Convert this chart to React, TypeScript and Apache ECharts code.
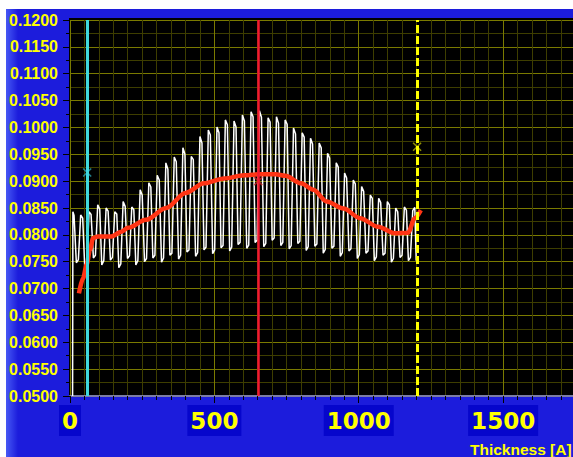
import React, { useEffect, useRef } from "react";
import * as echarts from "echarts";

// White measured signal: thickness [A]
const signalX = [9,
  10, 14, 22, 29,
  37, 44, 51, 58,
  66, 73, 81, 88,
  96, 103, 110, 117,
  125, 132, 140, 147,
  155, 162, 169, 176,
  184, 191, 199, 206,
  214, 221, 228, 235,
  243, 250, 258, 265,
  273, 280, 287, 294,
  302, 309, 317, 324,
  332, 339, 346, 353,
  361, 368, 376, 383,
  391, 398, 405, 412,
  420, 427, 435, 442,
  450, 457, 464, 471,
  479, 486, 494, 501,
  509, 516, 523, 530,
  538, 545, 553, 560,
  568, 575, 582, 589,
  597, 604, 612, 619,
  627, 634, 641, 648,
  656, 663, 671, 678,
  686, 693, 700, 707,
  715, 722, 730, 737,
  745, 752, 759, 766,
  774, 781, 789, 796,
  804, 811, 818, 825,
  833, 840, 848, 855,
  863, 870, 877, 884,
  892, 899, 907, 914,
  922, 929, 936, 943,
  951, 958, 966, 973,
  981, 988, 995, 1002,
  1010, 1017, 1025, 1032,
  1040, 1047, 1054, 1061,
  1069, 1076, 1084, 1091,
  1099, 1106, 1113, 1120,
  1128, 1135, 1143, 1150,
  1158, 1165, 1172, 1179,
  1187, 1194,
  1199];

// White measured signal: value
const signalY = [0.05,
  0.0843, 0.0836, 0.0748, 0.0754,
  0.0837, 0.0831, 0.0740, 0.0747,
  0.0843, 0.0838, 0.0757, 0.0762,
  0.0856, 0.0848, 0.0744, 0.0752,
  0.0850, 0.0844, 0.0753, 0.0758,
  0.0843, 0.0839, 0.0739, 0.0746,
  0.0862, 0.0853, 0.0756, 0.0761,
  0.0852, 0.0847, 0.0744, 0.0752,
  0.0884, 0.0874, 0.0750, 0.0756,
  0.0897, 0.0889, 0.0757, 0.0762,
  0.0911, 0.0902, 0.0749, 0.0757,
  0.0934, 0.0922, 0.0762, 0.0766,
  0.0945, 0.0936, 0.0755, 0.0762,
  0.0962, 0.0950, 0.0768, 0.0772,
  0.0946, 0.0940, 0.0760, 0.0767,
  0.0983, 0.0971, 0.0772, 0.0777,
  0.0995, 0.0986, 0.0765, 0.0772,
  0.1001, 0.0990, 0.0776, 0.0780,
  0.1014, 0.1005, 0.0770, 0.0777,
  0.1012, 0.1001, 0.0782, 0.0786,
  0.1023, 0.1012, 0.0775, 0.0781,
  0.1029, 0.1020, 0.0786, 0.0790,
  0.1031, 0.1019, 0.0778, 0.0784,
  0.1018, 0.1010, 0.0790, 0.0794,
  0.1020, 0.1008, 0.0780, 0.0786,
  0.1014, 0.1006, 0.0774, 0.0780,
  0.0999, 0.0988, 0.0784, 0.0788,
  0.0990, 0.0982, 0.0771, 0.0778,
  0.0980, 0.0969, 0.0779, 0.0783,
  0.0971, 0.0962, 0.0766, 0.0773,
  0.0952, 0.0943, 0.0775, 0.0779,
  0.0934, 0.0926, 0.0760, 0.0767,
  0.0915, 0.0906, 0.0770, 0.0774,
  0.0902, 0.0895, 0.0756, 0.0763,
  0.0890, 0.0881, 0.0766, 0.0770,
  0.0874, 0.0868, 0.0752, 0.0759,
  0.0868, 0.0860, 0.0762, 0.0766,
  0.0862, 0.0856, 0.0749, 0.0756,
  0.0850, 0.0843, 0.0758, 0.0762,
  0.0852, 0.0846, 0.0752, 0.0758,
  0.0845, 0.0851,
  0.0752];

// Red fitted curve
const fitX = [31, 45, 58, 69, 80, 97, 143, 178, 201, 263, 333, 400, 464, 534, 603, 660, 711, 746, 800, 843, 889, 947, 1005, 1067, 1125, 1171, 1194, 1215];
const fitY = [0.0691, 0.0719, 0.0745, 0.0772, 0.0794, 0.0797, 0.0797, 0.0806, 0.0813, 0.0828, 0.0850, 0.0878, 0.0896, 0.0905, 0.0911, 0.0913, 0.0913, 0.0910, 0.0896, 0.0884, 0.0862, 0.0849, 0.0831, 0.0815, 0.0803, 0.0804, 0.0831, 0.0846];

// Cursor lines and their cross markers
const cursorX = [59.5, 652, 1202];
const cursorMarkY = [0.0916, 0.09, 0.0964];
const cursorColors = ["#3fd8dc", "#f41830", "#ffff00"];
const cursorMarkColors = ["#2aa0b0", "#c02424", "#b0b000"];

const xMin = 0;
const xMax = 1742;
const xMajor = 500;
const xMinor = 50;

const MAJOR_GRID = "#7a7a00";
const MINOR_GRID = "#3e3e00";

export default function App() {
  const ref = useRef<HTMLDivElement>(null);

  useEffect(() => {
    if (!ref.current) return;
    const chart = echarts.init(ref.current, null, { renderer: "svg" });

    const signal = signalX.map((x, i) => [x, signalY[i]]);
    const fit = fitX.map((x, i) => [x, fitY[i]]);

    const minorColors = ["rgba(0,0,0,0)"];
    for (let i = 1; i < xMajor / xMinor; i++) minorColors.push(MINOR_GRID);

    const option: any = {
      animation: false,
      backgroundColor: "#1c1cdc",
      grid: {
        left: 64,
        top: 11,
        right: 0,
        height: 376,
        show: true,
        backgroundColor: "#000000",
        borderWidth: 0,
      },
      graphic: [
        {
          type: "rect",
          z: -1,
          shape: { x: 0, y: 0, width: 12, height: 448 },
          style: {
            fill: {
              type: "linear",
              x: 0,
              y: 0,
              x2: 1,
              y2: 0,
              colorStops: [
                { offset: 0, color: "#4658f4" },
                { offset: 1, color: "#1c1cdc" },
              ],
            },
          },
        },
        {
          type: "rect",
          z: -1,
          shape: { x: 63, y: 9, width: 510, height: 379 },
          style: { fill: "#000000" },
        },
        {
          type: "text",
          x: 464,
          y: 440,
          style: {
            text: "Thickness [A]",
            fill: "#ffff00",
            font: 'bold 15.5px "Liberation Sans"',
            verticalAlign: "middle",
          },
        },
      ],
      xAxis: [
        {
          type: "value",
          position: "bottom",
          offset: 0,
          min: xMin,
          max: xMax,
          interval: xMajor,
          axisLine: { show: true, onZero: false, lineStyle: { color: "#7c7ca4", width: 2 } },
          axisTick: { show: true, length: 7, lineStyle: { color: "#000000", width: 1 } },
          splitLine: { show: true, lineStyle: { color: MAJOR_GRID, width: 1 } },
          axisLabel: {
            color: "#ffff00",
            fontFamily: "DejaVu Sans",
            fontWeight: "bold",
            fontSize: 23,
            backgroundColor: "#0606cc",
            padding: [4, 3, 4, 3],
            margin: 9,
            showMaxLabel: false,
            formatter: (v: number) => String(v),
          },
        },
        {
          type: "value",
          position: "bottom",
          offset: 0,
          min: xMin,
          max: xMax,
          interval: xMinor,
          axisLine: { show: false },
          axisTick: { show: true, length: 4, lineStyle: { color: "#000000", width: 1 } },
          splitLine: { show: true, lineStyle: { color: minorColors, width: 1 } },
          axisLabel: { show: false },
        },
      ],
      yAxis: {
        type: "value",
        min: 0.05,
        max: 0.12,
        interval: 0.005,
        axisLine: { show: false },
        axisTick: { show: true, length: 7, lineStyle: { color: "#000000", width: 1 } },
        minorTick: { show: true, splitNumber: 2, length: 4, lineStyle: { color: "#000000", width: 1 } },
        splitLine: { show: true, lineStyle: { color: MAJOR_GRID, width: 1 } },
        minorSplitLine: { show: true, lineStyle: { color: MINOR_GRID, width: 1 } },
        axisLabel: {
          color: "#ffff00",
          fontFamily: "Liberation Sans",
          fontWeight: "bold",
          fontSize: 16,
          margin: 12,
          formatter: (v: number) => v.toFixed(4),
        },
      },
      series: [
        {
          type: "line",
          xAxisIndex: 0,
          data: signal,
          showSymbol: false,
          z: 2,
          lineStyle: { color: "#ffffff", width: 1.5 },
          emphasis: { disabled: true },
          markLine: {
            silent: true,
            symbol: ["none", "none"],
            label: { show: false },
            animation: false,
            data: cursorX.map((x, i) => ({
              xAxis: x,
              lineStyle: {
                color: cursorColors[i],
                width: i === 1 ? 2.5 : 3,
                type: i === 2 ? [8, 3] : "solid",
              },
            })),
          },
        },
        {
          type: "line",
          xAxisIndex: 0,
          data: fit,
          showSymbol: false,
          smooth: 0.3,
          smoothMonotone: "x",
          z: 3,
          lineStyle: { color: "#ff3414", width: 4.5 },
          emphasis: { disabled: true },
        },
        {
          type: "scatter",
          xAxisIndex: 0,
          z: 4,
          symbol: "path://M0,0L10,10M10,0L0,10",
          symbolSize: 8,
          data: cursorX.map((x, i) => ({
            value: [x, cursorMarkY[i]],
            itemStyle: { color: "rgba(0,0,0,0)", borderColor: cursorMarkColors[i], borderWidth: 1.6 },
          })),
          emphasis: { disabled: true },
        },
      ],
    };

    chart.setOption(option);
    return () => chart.dispose();
  }, []);

  return (
    <div
      ref={ref}
      style={{ position: "absolute", left: 6, top: 9, width: 567, height: 448 }}
    />
  );
}
